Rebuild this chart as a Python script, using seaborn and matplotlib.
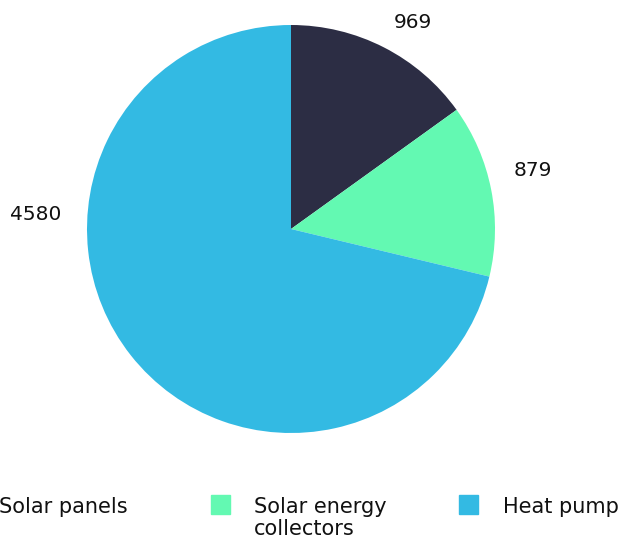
import matplotlib
matplotlib.use("Agg")
import matplotlib.pyplot as plt
import seaborn as sns
from matplotlib.patches import Rectangle

categories = ["Solar panels", "Solar energy\ncollectors", "Heat pump"]
values = [969, 879, 4580]
colors = ["#2c2d44", "#63f9b2", "#33bae3"]

sns.set_theme(style="white")
plt.rcParams["font.family"] = ["DejaVu Sans"]

W, H = 623, 538
fig = plt.figure(figsize=(W / 100, H / 100), dpi=100)
ax = fig.add_axes([0, 0, 1, 1])

cx, cy, r = 291, H - 229, 204
ax.pie(values, colors=colors, startangle=90, counterclock=False,
       center=(cx, cy), radius=r, wedgeprops=dict(linewidth=0))
ax.set_xlim(0, W)
ax.set_ylim(0, H)
ax.set_aspect("equal")
ax.axis("off")

# value labels around the pie
label_pos = [(413, 23), (533, 170), (36, 215)]
for v, (x, y) in zip(values, label_pos):
    ax.text(x, H - y, f"{v}", ha="center", va="center", fontsize=14.5,
            color="#111111")

# legend row along the bottom
marker_x = [-37, 211, 459]
text_anchor = [(128, "right"), (254, "left"), (503, "left")]
for name, col, mx, (tx, ha) in zip(categories, colors, marker_x, text_anchor):
    ax.add_patch(Rectangle((mx, H - 514), 19, 19, color=col, clip_on=False))
    for i, line in enumerate(name.split("\n")):
        ax.text(tx, H - (513 + 22 * i), line, ha=ha, va="baseline",
                fontsize=15, color="#111111")

fig.savefig("out.png", dpi=100)
